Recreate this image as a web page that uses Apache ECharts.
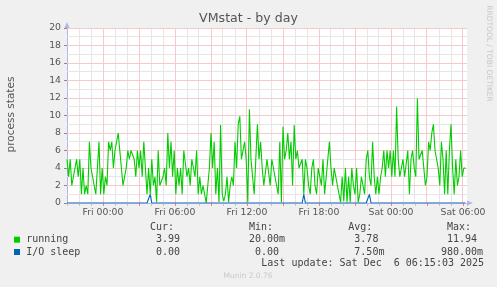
<!DOCTYPE html>
<html><head><meta charset="utf-8">
<script src="https://cdn.jsdelivr.net/npm/echarts@6/dist/echarts.min.js"></script>
<style>html,body{margin:0;padding:0;background:#f0f0f0;}#c{width:497px;height:287px;}</style>
</head><body><div id="c"></div>
<script>
// ---- data ----
const title = 'VMstat - by day';
const yAxisName = 'process states';
const startHour = -3;          // Thu 21:00, hours relative to Fri 00:00
const stepHours = 8 / 60;      // one sample every 8 minutes
const xTickHours = [0, 6, 12, 18, 24, 30];
const xTickLabels = ['Fri 00:00', 'Fri 06:00', 'Fri 12:00', 'Fri 18:00', 'Sat 00:00', 'Sat 06:00'];
const seriesNames = ['running', 'I/O sleep'];
const seriesColors = ['#00cc00', '#0066b3'];
const running = [
  5,3,5,2,2,4,5,3,5,1,
  4,1,2,1,7,4,3,2,1,1,
  7,1,4,1,3,2,7,6,7,4,
  6,7,8,6,4,2,3,4,6,5,
  6,6,5,3,6,4,6,3,7,4,
  1,4,1,5,2,3,0.1,6,2,2,
  3,4,2,8,4,7,3,6,1,4,
  2,4,1,6,6,3,4,2,5,5,
  3,6,1,3,1,2,1,0.02,2,4,
  8,4,7,1,4,0.1,8.9,1,0.2,1,
  3,0.1,2,3,2,7,4,9,9.9,5,
  6,7,5,0.1,10.7,
  5,3,1,5,9,5,7,4,2,2,
  5,5,2,5,5,3,2,1,7,0.1,
  8.7,5,6,8,5,7,2,8.9,5,6,
  4,4,5,1,5,4,2,1,4,5,
  2,1,4,3,2,5,1,3,5,7,
  4,2,4,4,2,1,0.1,3,0.2,4,
  0.1,3,0.1,4,2,1,4,0.1,1,3,
  3,1,5,6,3,2,7,3,1,3,
  1,3,4,6,3,6,4,6,3,6,
  3,11,5,3,3,5,3,3,6,1,
  5,6,4,3,11.94,5,5,6,4,2,
  3,7,6,8,9,6,5,4,2,7,
  5,1,6,1,6,9,4,1,5,2,
  3,6,3,4,3.99
];
const ioSleep = [
  0,0,0,0,0,0,0,0,0,0,
  0,0,0,0,0,0,0,0,0,0,
  0,0,0,0,0,0,0,0,0,0,
  0,0,0,0,0,0,0,0,0,0,
  0,0,0,0,0,0,0,0,0,0,
  0,0,0.98,0,0,0,0,0,0,0,
  0,0,0,0,0,0,0,0,0,0,
  0,0,0,0,0,0,0,0,0,0,
  0,0,0,0,0,0,0,0,0,0,
  0,0,0,0,0,0,0,0,0,0,
  0,0,0,0,0,0,0,0,0,0,
  0,0,0,0,0,0,0,0,0,0,
  0,0,0,0,0,0,0,0,0,0,
  0,0,0,0,0,0,0,0,0,0,
  0,0,0,0,0,0,0,0,0.98,0,
  0,0,0,0,0,0,0,0,0,0,
  0,0,0,0,0,0,0,0,0,0,
  0,0,0,0,0,0,0,0,0,0,
  0,0,0,0,0,0,0,0,0,0.98,
  0,0,0,0,0,0,0,0,0,0,
  0,0,0,0,0,0,0,0,0,0,
  0,0,0,0,0,0,0,0,0,0,
  0,0,0,0,0,0,0,0,0,0,
  0,0,0,0,0,0,0,0,0,0,
  0,0,0,0,0,0,0,0,0,0
];
const statHeaders = ['Cur:', 'Min:', 'Avg:', 'Max:'];
const statCur = [3.99, 0];
const statMin = [0.02, 0];
const statAvg = [3.78, 0.0075];
const statMax = [11.94, 0.98];
const lastUpdate = 'Last update: Sat Dec  6 06:15:03 2025';
const version = 'Munin 2.0.76';
const watermark = 'RRDTOOL / TOBI OETIKER';

// ---- layout / style ----
const sans = '"DejaVu Sans", sans-serif';
const mono = '"DejaVu Sans Mono", monospace';
const minorCol = '#e6e6e6', majorCol = '#f6caca', axisCol = '#b4b4e6', labelCol = '#555';
const xMax = startHour + stepHours * running.length;
const yMax = 20;

function fmt(v) {
  if (v !== 0 && Math.abs(v) < 1) return { n: (v * 1000).toFixed(2), u: 'm' };
  return { n: v.toFixed(2), u: '' };
}

const chart = echarts.init(document.getElementById('c'), null, { renderer: 'canvas' });

const xLabel = v => {
  const k = xTickHours.findIndex(h => Math.abs(h - v) < 1e-6);
  return k >= 0 ? xTickLabels[k] : '';
};

chart.setOption({
  animation: false,
  backgroundColor: '#f0f0f0',
  grid: { left: 67, top: 28, width: 400, height: 175, show: true, backgroundColor: '#fff', borderWidth: 0 },
  xAxis: [
    { type: 'value', position: 'bottom', min: startHour, max: xMax, interval: 1,
      axisLine: { show: true, onZero: false, lineStyle: { color: axisCol }, symbol: ['none', 'triangle'], symbolSize: [5, 6], symbolOffset: [0, 3] },
      axisTick: { show: true, length: 3, lineStyle: { color: '#c4c4c4' } },
      axisLabel: { show: false },
      splitLine: { show: false } },
    { type: 'value', position: 'bottom', offset: 0, min: startHour, max: xMax, interval: 3,
      axisLine: { show: false, onZero: false },
      axisTick: { show: true, length: 3, lineStyle: { color: '#f08080' } },
      axisLabel: { show: true, formatter: xLabel, color: labelCol, fontSize: 9.3, fontFamily: sans, margin: 5, showMinLabel: false, showMaxLabel: false },
      splitLine: { show: false } }
  ],
  yAxis: [
    { type: 'value', position: 'left', min: 0, max: yMax, interval: 1,
      axisLine: { show: true, onZero: false, lineStyle: { color: axisCol }, symbol: ['none', 'triangle'], symbolSize: [5, 6], symbolOffset: [0, 3] },
      axisTick: { show: false }, axisLabel: { show: false },
      splitLine: { show: false } },
    { type: 'value', position: 'left', offset: 0, min: 0, max: yMax, interval: 2,
      axisLine: { show: false, onZero: false },
      axisTick: { show: true, length: 3, lineStyle: { color: '#888' } },
      axisLabel: { show: true, color: labelCol, fontSize: 9.3, fontFamily: sans, margin: 6 },
      splitLine: { show: false } }
  ],
  series: [
    { name: seriesNames[0], type: 'line', xAxisIndex: 0, yAxisIndex: 0, showSymbol: false, symbol: 'none', z: 3,
      color: seriesColors[0], lineStyle: { width: 1.1, color: seriesColors[0] },
      data: running.map((v, i) => [startHour + i * stepHours, v]) },
    { name: seriesNames[1], type: 'line', xAxisIndex: 0, yAxisIndex: 0, showSymbol: false, symbol: 'none', z: 4,
      color: seriesColors[1], lineStyle: { width: 1.1, color: seriesColors[1] },
      data: ioSleep.map((v, i) => [startHour + i * stepHours, v]) }
  ]
});

// ---- grid lines (positions from the chart's own scales) + texts ----
const graphics = [];
const px = (h) => chart.convertToPixel({ xAxisIndex: 0 }, h);
const py = (v) => chart.convertToPixel({ yAxisIndex: 0 }, v);
const x0 = px(startHour), x1 = px(xMax), y0 = py(0), y1 = py(yMax);
const snap = p => Math.floor(p) + 0.5;
const minorL = [], majorL = [];
for (let h = startHour + 1; h < xMax; h += 1) {
  const major = ((h % 3) + 3) % 3 === 0;
  const x = snap(px(h));
  (major ? majorL : minorL).push({ x1: x, y1: y1, x2: x, y2: y0 });
}
for (let v = 1; v <= yMax; v += 1) {
  const y = snap(py(v));
  (v % 2 === 0 ? majorL : minorL).push({ x1: x0, y1: y, x2: x1, y2: y });
}
minorL.forEach(s => graphics.push({ type: 'line', z: 1, silent: true, shape: s, style: { stroke: minorCol, lineWidth: 1 } }));
majorL.forEach(s => graphics.push({ type: 'line', z: 2, silent: true, shape: s, style: { stroke: majorCol, lineWidth: 1 } }));

graphics.push({ type: 'text', z: 10, x: 248.5, y: 18.5, style: { text: title, font: '12.6px ' + sans, fill: '#555', align: 'center', verticalAlign: 'middle' } });
graphics.push({ type: 'text', z: 10, x: 11.5, y: 114.5, rotation: Math.PI / 2, style: { text: yAxisName, font: '10.5px ' + sans, fill: '#555', align: 'center', verticalAlign: 'middle' } });
graphics.push({ type: 'text', z: 10, x: 488.5, y: 53.5, rotation: -Math.PI / 2, style: { text: watermark, font: '7.5px ' + sans, fill: '#c8c8c8', align: 'center', verticalAlign: 'middle' } });

const colX = [150, 249, 348.3, 447];
const rowY = [239.7, 252];
statHeaders.forEach((h, i) => {
  graphics.push({ type: 'text', z: 10, x: colX[i], y: 227.5, style: { text: h, font: '10px ' + mono, fill: '#444', align: 'left', verticalAlign: 'middle' } });
});
const stats = [statCur, statMin, statAvg, statMax];
seriesNames.forEach((name, r) => {
  graphics.push({ type: 'rect', z: 10, shape: { x: 14, y: rowY[r] - 3, width: 6, height: 6 }, style: { fill: seriesColors[r] } });
  graphics.push({ type: 'text', z: 10, x: 26.2, y: rowY[r], style: { text: name, font: '10px ' + mono, fill: '#444', align: 'left', verticalAlign: 'middle' } });
  stats.forEach((s, c) => {
    const f = fmt(s[r]);
    graphics.push({ type: 'text', z: 10, x: colX[c] + 30.1, y: rowY[r], style: { text: f.n, font: '10px ' + mono, fill: '#444', align: 'right', verticalAlign: 'middle' } });
    if (f.u) graphics.push({ type: 'text', z: 10, x: colX[c] + 30.1, y: rowY[r], style: { text: f.u, font: '10px ' + mono, fill: '#444', align: 'left', verticalAlign: 'middle' } });
  });
});
graphics.push({ type: 'text', z: 10, x: 261.3, y: 263.5, style: { text: lastUpdate, font: '10px ' + mono, fill: '#444', align: 'left', verticalAlign: 'middle' } });
graphics.push({ type: 'text', z: 10, x: 248, y: 276.5, style: { text: version, font: '7.5px ' + sans, fill: '#c8c8c8', align: 'center', verticalAlign: 'middle' } });

chart.setOption({ graphic: graphics });
</script></body></html>
